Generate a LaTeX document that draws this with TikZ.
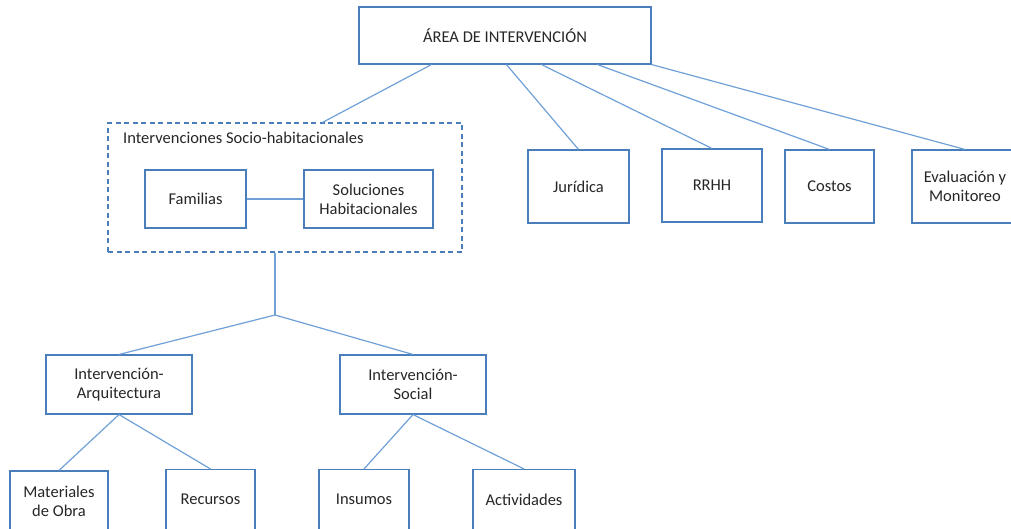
\documentclass[tikz,border=0pt]{standalone}
\usepackage{fontspec}
\setmainfont{Carlito}
\definecolor{boxblue}{HTML}{4A7EBB}
\definecolor{lineblue}{HTML}{6FA0D8}
\definecolor{txt}{HTML}{262626}
\begin{document}
\begin{tikzpicture}[x=1pt,y=-1pt,
  box/.style={draw=boxblue,line width=1.1pt,rectangle,inner sep=0pt,align=center,
    text=txt,font=\fontsize{16.5}{19}\selectfont},
  dbox/.style={draw=boxblue,line width=1.1pt,rectangle,inner sep=0pt,dash pattern=on 5pt off 3.5pt},
  conn/.style={draw=lineblue,line width=1.2pt},
  lbl/.style={text=txt,font=\fontsize{16.5}{19}\selectfont,inner sep=0pt}]
\useasboundingbox (0,0) rectangle (1011,528);
\clip (0,0) rectangle (1011,528);
% top
\node[box,minimum width=292pt,minimum height=57pt] (top) at (505,35.5) {ÁREA DE INTERVENCIÓN};
\node[box,minimum width=101pt,minimum height=73pt] (jur) at (578.5,186.5) {Jurídica};
\node[box,minimum width=100pt,minimum height=73pt] (rrhh) at (712,185.5) {RRHH};
\node[box,minimum width=89pt,minimum height=73pt] (cost) at (829.5,186.5) {Costos};
\node[box,minimum width=106pt,minimum height=73pt] (eval) at (965,186.5) {Evaluación y\\Monitoreo};
% dashed group
\node[dbox,minimum width=354pt,minimum height=129pt] (grp) at (285,187.5) {};
\node[lbl,anchor=west] (grptitle) at (123,138) {Intervenciones Socio-habitacionales};
\node[box,minimum width=101pt,minimum height=58pt] (fam) at (195.5,199) {Familias};
\node[box,minimum width=129pt,minimum height=58pt] (sol) at (368.5,199) {Soluciones\\Habitacionales};
% lower
\coordinate (j) at (275,315);
\node[box,minimum width=146pt,minimum height=59pt] (arq) at (119,384.5) {Intervención-\\Arquitectura};
\node[box,minimum width=146pt,minimum height=59pt] (soc) at (413,384.5) {Intervención-\\Social};
\node[box,minimum width=98pt,minimum height=60pt] (mat) at (59,501) {Materiales\\de Obra};
\node[box,minimum width=89pt,minimum height=60pt] (rec) at (210.5,499.5) {Recursos};
\node[box,minimum width=90pt,minimum height=60pt] (ins) at (364,499.5) {Insumos};
\node[box,minimum width=102pt,minimum height=60pt] (act) at (524,499.5) {Actividades};
% connectors
\draw[conn] ([xshift=73pt]top.south west) -- ([xshift=215pt]grp.north west);
\draw[conn] ([xshift=148pt]top.south west) -- (jur.north);
\draw[conn] ([xshift=183pt]top.south west) -- (rrhh.north);
\draw[conn] ([xshift=239pt]top.south west) -- (cost.north);
\draw[conn] (top.south east) -- (eval.north);
\draw[conn] (fam.east) -- (sol.west);
\draw[conn] (j |- grp.south) -- (j);
\draw[conn] (j) -- (arq.north);
\draw[conn] (j) -- (soc.north);
\draw[conn] (arq.south) -- (mat.north);
\draw[conn] (arq.south) -- (rec.north);
\draw[conn] (soc.south) -- (ins.north);
\draw[conn] (soc.south) -- (act.north);
\end{tikzpicture}
\end{document}
